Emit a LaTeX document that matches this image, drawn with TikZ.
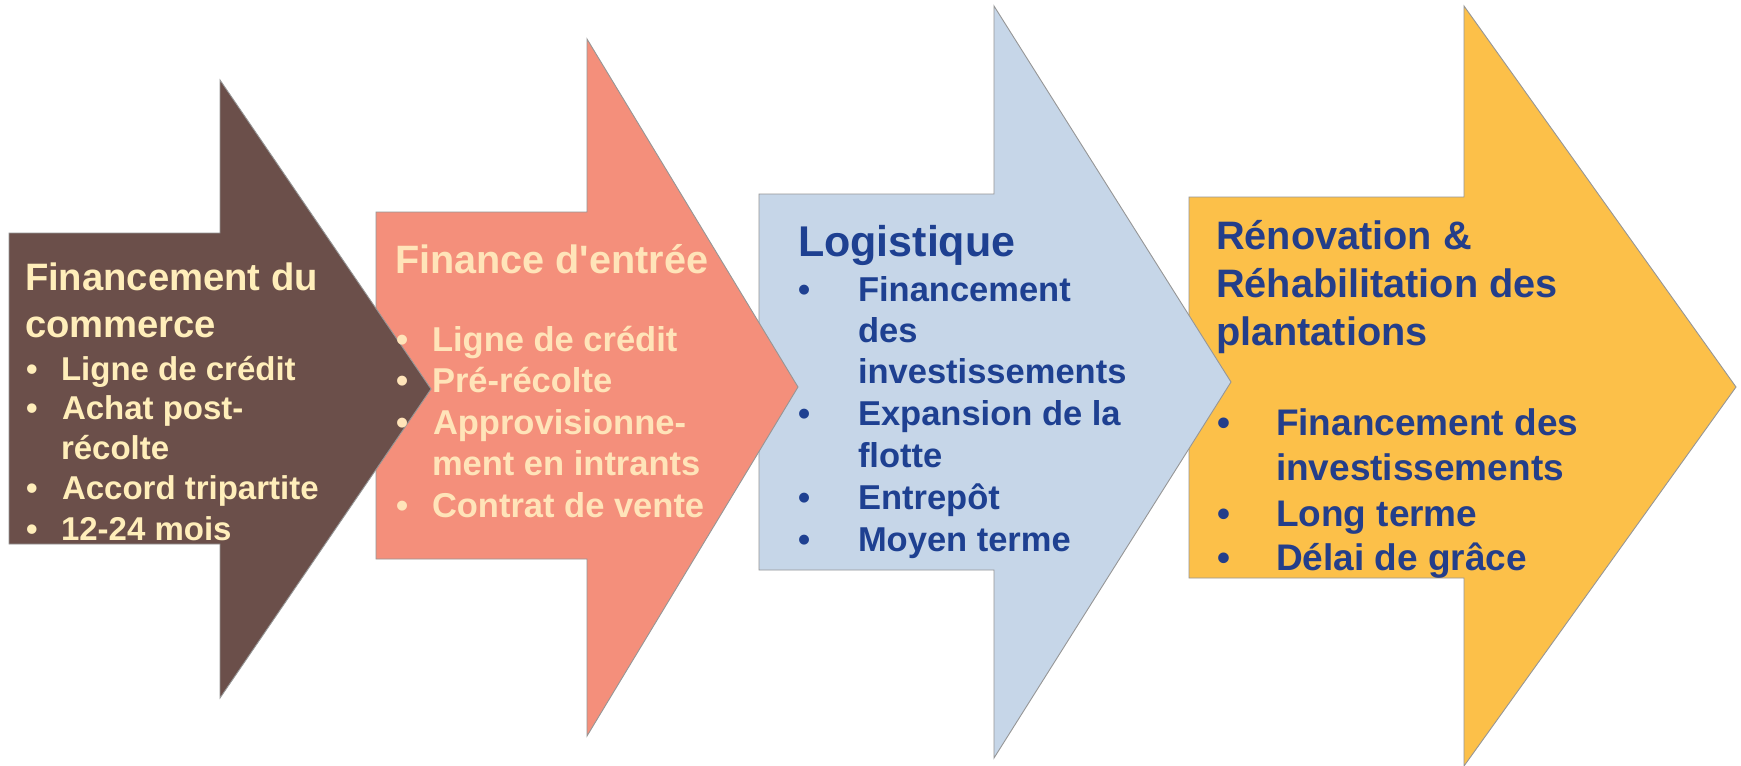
\documentclass[tikz,border=0pt]{standalone}
\usepackage{fontspec}
\setmainfont{Liberation Sans}[Ligatures=TeXOff]
\definecolor{outl}{RGB}{150,150,150}
\definecolor{brownc}{RGB}{107,79,74}
\definecolor{salmonc}{RGB}{244,143,123}
\definecolor{bluec}{RGB}{198,214,232}
\definecolor{yellowc}{RGB}{252,192,73}
\definecolor{creamA}{RGB}{255,238,186}
\definecolor{creamB}{RGB}{255,228,185}
\definecolor{navyA}{RGB}{30,64,145}
\definecolor{navyB}{RGB}{36,62,138}
\tikzset{
  arrowshape/.style={draw=outl, line width=0.9pt, line join=miter},
  ln/.style={anchor=base west, inner sep=0pt, outer sep=0pt},
  tA/.style={ln, text=creamA, font=\fontsize{38.2}{45}\selectfont\bfseries},
  bA/.style={ln, text=creamA, font=\fontsize{33}{40}\selectfont\bfseries},
  tB/.style={ln, text=creamB, font=\fontsize{39.6}{47}\selectfont\bfseries},
  bB/.style={ln, text=creamB, font=\fontsize{34.5}{41}\selectfont\bfseries},
  tC/.style={ln, text=navyA, font=\fontsize{43}{50}\selectfont\bfseries},
  bC/.style={ln, text=navyA, font=\fontsize{34.5}{41}\selectfont\bfseries},
  tD/.style={ln, text=navyB, font=\fontsize{39.7}{47}\selectfont\bfseries},
  bD/.style={ln, text=navyB, font=\fontsize{37}{44}\selectfont\bfseries}
}
\begin{document}
\begin{tikzpicture}[x=1pt,y=-1pt]
\useasboundingbox (0,0) rectangle (1741,766);
\fill[white] (0,0) rectangle (1741,766);
% arrows, right to left so each tip lies over the next body
\path[arrowshape, fill=yellowc] (1189,197) -- (1464,197) -- (1464,6) -- (1736,387) -- (1464,766) -- (1464,578) -- (1189,578) -- cycle;
\path[arrowshape, fill=bluec] (759,194) -- (994,194) -- (994,6) -- (1231,382) -- (994,758) -- (994,570) -- (759,570) -- cycle;
\path[arrowshape, fill=salmonc] (376,212) -- (587,212) -- (587,39) -- (798,387) -- (587,736) -- (587,559) -- (376,559) -- cycle;
\path[arrowshape, fill=brownc] (9,233) -- (220,233) -- (220,80) -- (431,389) -- (220,698) -- (220,544) -- (9,544) -- cycle;
% arrow 1 text
\node[tA] (a1t1) at (25,290) {Financement du};
\node[tA] (a1t2) at (25,337) {commerce};
\node[bA] (a1d1) at (26,380) {•}; \node[bA] (a1l1) at (61,380) {Ligne de crédit};
\node[bA] (a1d2) at (26,419) {•}; \node[bA] (a1l2) at (62,419) {Achat post-};
\node[bA] (a1l3) at (61,459) {récolte};
\node[bA] (a1d3) at (26,499) {•}; \node[bA] (a1l4) at (62,499) {Accord tripartite};
\node[bA] (a1d4) at (26,540) {•}; \node[bA] (a1l5) at (61,540) {12-24 mois};
% arrow 2 text
\node[tB] (a2t1) at (395,273) {Finance d'entrée};
\node[bB] (a2d1) at (396,351) {•}; \node[bB] (a2l1) at (432,351) {Ligne de crédit};
\node[bB] (a2d2) at (396,392) {•}; \node[bB] (a2l2) at (432,392) {Pré-récolte};
\node[bB] (a2d3) at (396,434) {•}; \node[bB] (a2l3) at (433,434) {Approvisionne-};
\node[bB] (a2l4) at (432,475) {ment en intrants};
\node[bB] (a2d4) at (396,517) {•}; \node[bB] (a2l5) at (432,517) {Contrat de vente};
% arrow 3 text
\node[tC] (a3t1) at (798,256) {Logistique};
\node[bC] (a3d1) at (798,301) {•}; \node[bC] (a3l1) at (858,301) {Financement};
\node[bC] (a3l2) at (858,342) {des};
\node[bC] (a3l3) at (858,383) {investissements};
\node[bC] (a3d2) at (798,425) {•}; \node[bC] (a3l4) at (858,425) {Expansion de la};
\node[bC] (a3l5) at (858,467) {flotte};
\node[bC] (a3d3) at (798,509) {•}; \node[bC] (a3l6) at (858,509) {Entrepôt};
\node[bC] (a3d4) at (798,551) {•}; \node[bC] (a3l7) at (858,551) {Moyen terme};
% arrow 4 text
\node[tD] (a4t1) at (1216,249) {Rénovation \&};
\node[tD] (a4t2) at (1216,297) {Réhabilitation des};
\node[tD] (a4t3) at (1216,345) {plantations};
\node[bD] (a4d1) at (1217,435) {•}; \node[bD] (a4l1) at (1276,435) {Financement des};
\node[bD] (a4l2) at (1276,480) {investissements};
\node[bD] (a4d2) at (1217,526) {•}; \node[bD] (a4l3) at (1276,526) {Long terme};
\node[bD] (a4d3) at (1217,570) {•}; \node[bD] (a4l4) at (1276,570) {Délai de grâce};
\end{tikzpicture}
\end{document}
